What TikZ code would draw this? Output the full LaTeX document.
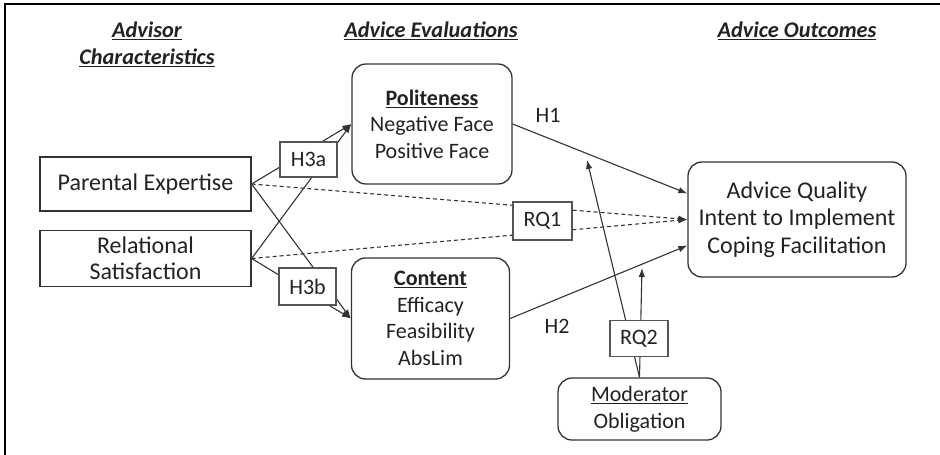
\documentclass[tikz,border=0pt]{standalone}
\usepackage{fontspec}
\setmainfont{Carlito}
\usetikzlibrary{arrows.meta,calc}
\definecolor{ink}{HTML}{222222}
\definecolor{edge}{HTML}{333333}
\definecolor{labedge}{HTML}{555555}
\tikzset{
  txt/.style={font=\fontsize{22}{26.5}\selectfont, text=ink, align=center, inner sep=0pt},
  bigtxt/.style={font=\fontsize{24}{26}\selectfont},
  sqbox/.style={txt, bigtxt, draw=edge, line width=1.3pt},
  rbox/.style={txt, draw=edge, line width=1.3pt, rounded corners=14pt},
  labbox/.style={txt, draw=labedge, line width=1.1pt, fill=white},
  header/.style={font=\fontsize{22.3}{27}\selectfont\bfseries\itshape, text=ink, align=center, inner sep=0pt},
  conn/.style={draw=edge, line width=1.1pt},
  arr/.style={conn, -{Latex[length=9pt,width=6.5pt]}},
  dsh/.style={arr, dash pattern=on 4pt off 3pt},
}
\begin{document}
\begin{tikzpicture}[x=1pt,y=-1pt]
\useasboundingbox (0,0) rectangle (940,455);
% frame
\draw[line width=2pt, black] (5,455) -- (5,4.3) -- (940,4.3);

% headers
\node[header] (hA) at (147,44) {\underline{Advisor}\\\underline{Characteristics}};
\node[header] (hB) at (431,31) {\underline{Advice Evaluations}};
\node[header] (hC) at (797,31) {\underline{Advice Outcomes}};

% main boxes
\node[sqbox, minimum width=211pt, minimum height=54pt] (pe) at (145.5,184) {Parental Expertise};
\node[sqbox, minimum width=211pt, minimum height=56pt] (rs) at (145.5,258.5) {Relational\\Satisfaction};
\node[rbox, minimum width=160pt, minimum height=120pt] (pol) at (432,124) {\textbf{\underline{Politeness}}\\Negative Face\\Positive Face};
\node[rbox, minimum width=158pt, minimum height=121pt] (con) at (430.5,318.5) {\textbf{\underline{Content}}\\Efficacy\\Feasibility\\AbsLim};
\node[rbox, minimum width=218pt, minimum height=115pt, font=\fontsize{24}{27.5}\selectfont] (out) at (797,219.5) {Advice Quality\\Intent to Implement\\Coping Facilitation};
\node[rbox, minimum width=163pt, minimum height=62pt] (mod) at (639.5,409) {\underline{Moderator}\\Obligation};

% moderator targets
\coordinate (m1) at (587,160);
\coordinate (m2) at (642,268);

% connectors
\draw[arr] (pe.east) -- (pol.west);
\draw[arr] (rs.east) -- (pol.west);
\draw[arr] (pe.east) -- (con.west);
\draw[arr] (rs.east) -- (con.west);
\draw[dsh] (pe.east) -- (out.west);
\draw[dsh] (rs.east) -- (out.west);
\draw[arr] (pol.east) -- ([yshift=26pt]out.west);
\draw[arr] (con.east) -- ([yshift=-26pt]out.west);
\draw[arr] (mod.north) -- (m1);
\draw[arr] (mod.north) -- (m2);

% label boxes
\node[labbox, minimum width=57pt, minimum height=35pt] (h3a) at (308.5,159.5) {H3a};
\node[labbox, minimum width=57pt, minimum height=37pt] (h3b) at (307.5,286.5) {H3b};
\node[labbox, minimum width=59pt, minimum height=38pt] (rq1) at (542.5,221) {RQ1};
\node[labbox, minimum width=58pt, minimum height=36pt] (rq2) at (639,338.5) {RQ2};

% path labels
\node[txt] (h1) at (548,115) {H1};
\node[txt] (h2) at (557,326) {H2};
\end{tikzpicture}
\end{document}
